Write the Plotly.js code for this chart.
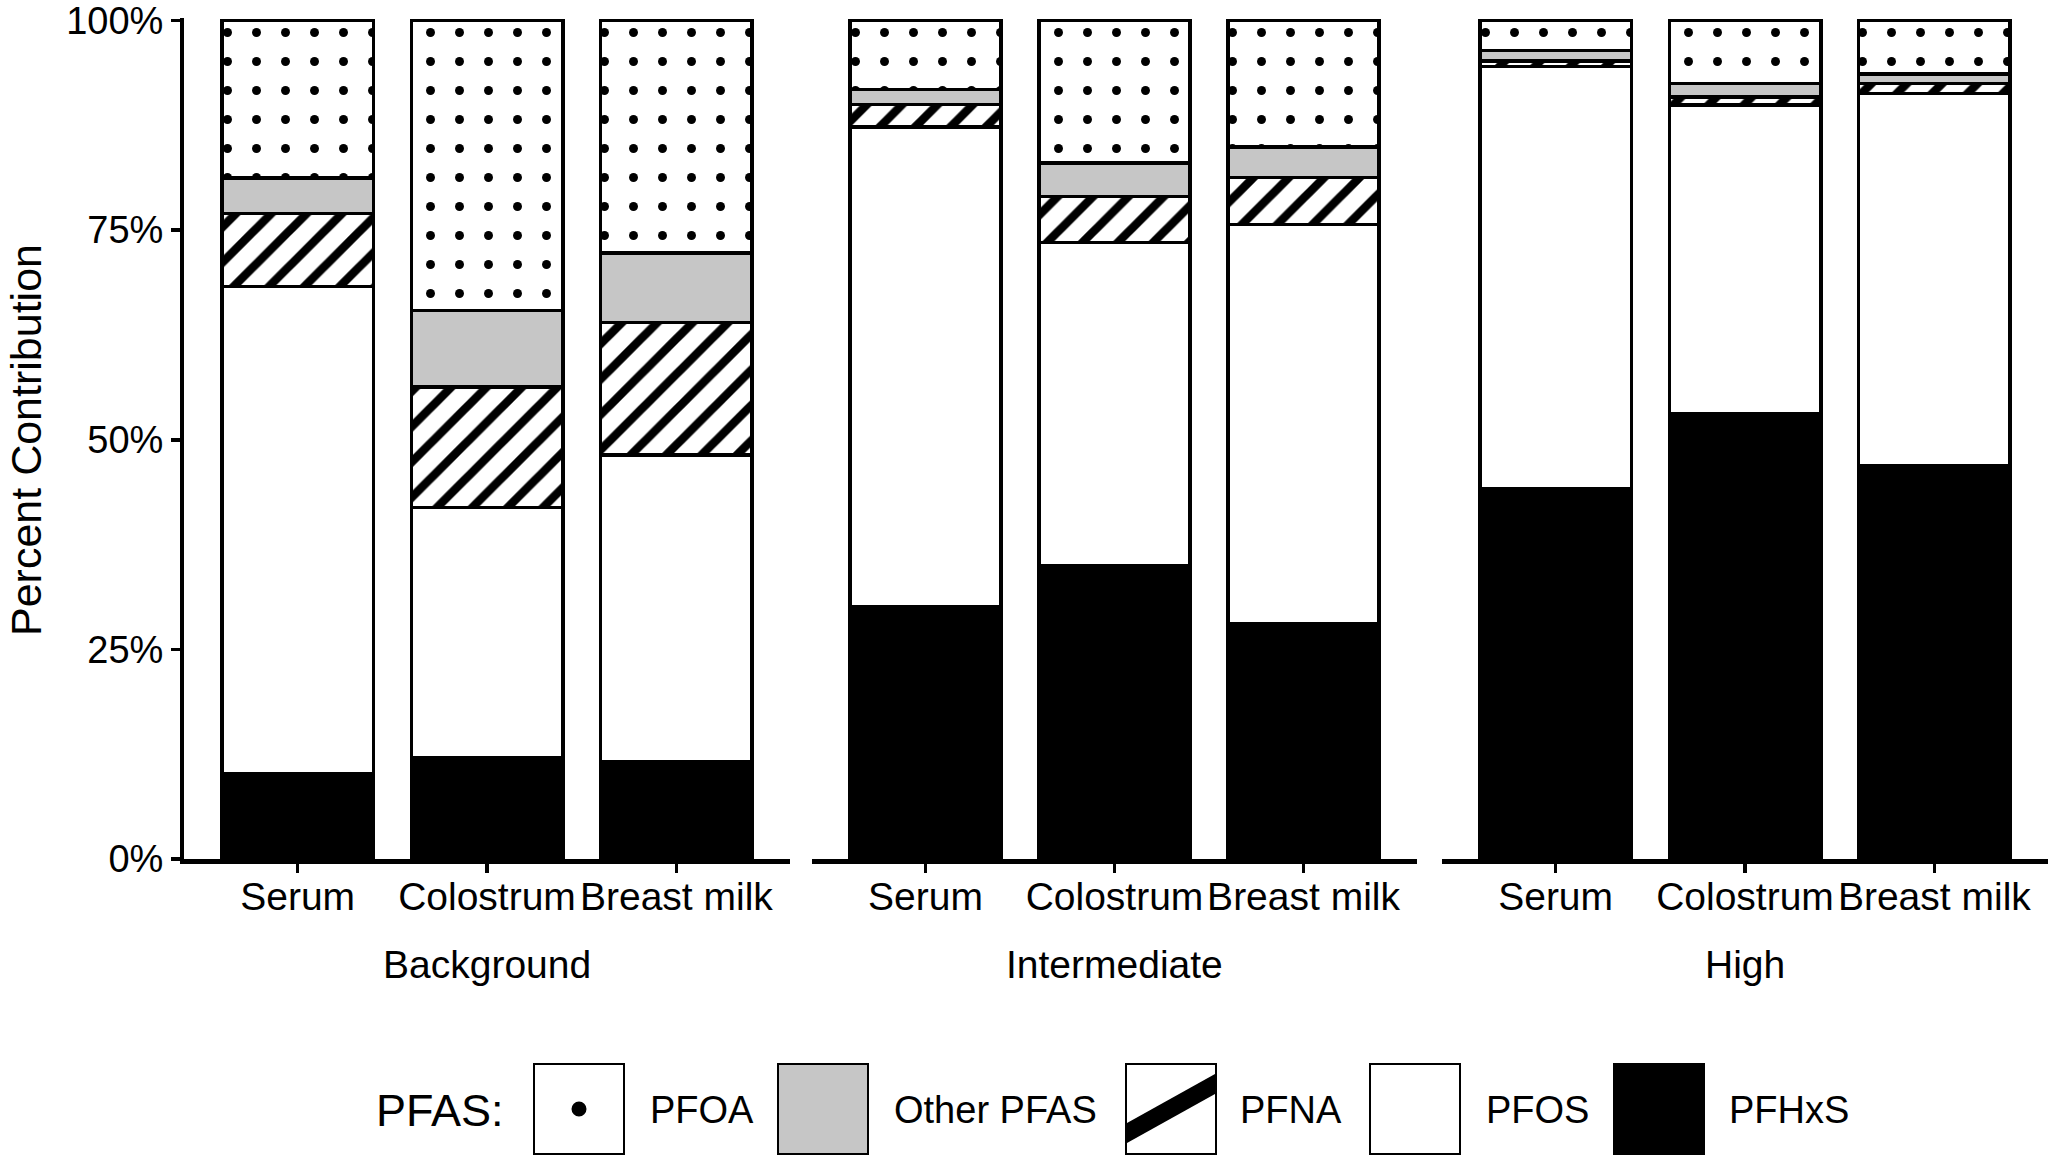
<!DOCTYPE html>
<html>
<head>
<meta charset="utf-8">
<script src="https://cdn.plot.ly/plotly-3.0.1.min.js"></script>
<style>
  html, body { margin: 0; padding: 0; background: #fff; }
  #chart { width: 2048px; height: 1176px; }
</style>
</head>
<body>
<div id="chart"></div>
<script>
// categories
const samples = ["Serum", "Colostrum", "Breast milk"];
const groups = ["Background", "Intermediate", "High"];

// percent contribution per segment, 9 values each:
// Background (Serum, Colostrum, Breast milk), Intermediate (...), High (...)
const pfhxs = [10.2, 12.1, 11.6, 30.1, 35.0, 28.0, 44.1, 53.1, 46.9];
const pfos = [58.1, 29.8, 36.6, 57.2, 38.5, 47.7, 50.4, 36.8, 44.4];
const pfna = [8.7, 14.4, 15.8, 2.7, 5.5, 5.6, 0.7, 1.0, 1.2];
const otherPfas = [4.2, 9.1, 8.3, 1.8, 4.0, 3.6, 1.2, 1.6, 1.1];
const pfoa = [18.8, 34.6, 27.7, 8.2, 17.0, 15.1, 3.6, 7.5, 6.4];

const yTicks = [0, 25, 50, 75, 100];
const legendOrder = ["PFOA", "Other PFAS", "PFNA", "PFOS", "PFHxS"];

// stacking order, bottom to top
const series = [
  { name: "PFHxS", values: pfhxs },
  { name: "PFOS", values: pfos },
  { name: "PFNA", values: pfna },
  { name: "Other PFAS", values: otherPfas },
  { name: "PFOA", values: pfoa },
];

const styles = {
  PFHxS: { color: "#000000" },
  PFOS: { color: "#ffffff" },
  PFNA: { color: "#ffffff", pattern: { shape: "/", size: 25, solidity: 0.34, fgcolor: "#000", bgcolor: "#fff" } },
  "Other PFAS": { color: "#c6c6c6" },
  PFOA: { color: "#ffffff", pattern: { shape: ".", size: 29, solidity: 0.075, fgcolor: "#000", bgcolor: "#fff" } },
};

const W = 2048, H = 1176, ML = 184, MR = 0, MT = 18, MB = 317;
const PW = W - ML - MR, PH = H - MT - MB;
const px = (x) => (x - ML) / PW;
const py = (y) => (H - MB - y) / PH;

const FONT = '"Liberation Sans", Arial, Helvetica, sans-serif';
const domains = [[0, px(790)], [px(812), px(1417)], [px(1442), 1]];

const traces = [];
groups.forEach((group, g) => {
  const xa = g === 0 ? "x" : "x" + (g + 1);
  series.forEach((s) => {
    const st = styles[s.name];
    const marker = { color: st.color, line: { color: "#000", width: 3.5 } };
    if (st.pattern) marker.pattern = st.pattern;
    traces.push({
      type: "bar",
      name: s.name,
      x: samples,
      y: s.values.slice(g * 3, g * 3 + 3),
      xaxis: xa,
      yaxis: "y",
      marker: marker,
      showlegend: false,
      hoverinfo: "skip",
    });
  });
});

function xAxis(d) {
  return {
    domain: d,
    anchor: "y",
    type: "category",
    range: [-0.6, 2.6],
    showline: true,
    linecolor: "#000",
    linewidth: 4.5,
    ticks: "outside",
    ticklen: 9,
    tickwidth: 3.5,
    tickcolor: "#000",
    ticklabelstandoff: -9,
    ticklabeloverflow: "allow",
    tickfont: { family: FONT, size: 39, color: "#000" },
    showgrid: false,
    zeroline: false,
    fixedrange: true,
  };
}

const annotations = [
  {
    text: "Percent Contribution",
    xref: "paper", yref: "paper",
    x: px(26), y: py(440),
    xanchor: "center", yanchor: "middle",
    textangle: -90, showarrow: false,
    font: { family: FONT, size: 43, color: "#000" },
  },
  {
    text: "PFAS:",
    xref: "paper", yref: "paper",
    x: px(374), y: py(1110),
    xanchor: "left", yanchor: "middle",
    showarrow: false,
    font: { family: FONT, size: 45, color: "#000" },
  },
];

groups.forEach((group, g) => {
  annotations.push({
    text: group,
    xref: (g === 0 ? "x" : "x" + (g + 1)) + " domain", yref: "paper",
    x: 0.5, y: py(964),
    xanchor: "center", yanchor: "middle",
    showarrow: false,
    font: { family: FONT, size: 39, color: "#000" },
  });
});

// legend keys drawn as shapes
const keyLeft = [534, 778, 1126, 1370, 1614];
const labelLeft = [648, 892, 1238, 1484, 1727];
const keyTop = 1064, keySize = 90;
const shapes = [];
legendOrder.forEach((name, i) => {
  const x0 = keyLeft[i], x1 = x0 + keySize, y0 = keyTop, y1 = keyTop + keySize;
  shapes.push({
    type: "rect", xref: "paper", yref: "paper",
    x0: px(x0), x1: px(x1), y0: py(y1), y1: py(y0),
    fillcolor: styles[name].color,
    line: { color: "#000", width: 2 },
  });
  if (name === "PFOA") {
    const cx = x0 + keySize / 2, cy = y0 + keySize / 2, r = 7.5;
    shapes.push({
      type: "circle", xref: "paper", yref: "paper",
      x0: px(cx - r), x1: px(cx + r), y0: py(cy + r), y1: py(cy - r),
      fillcolor: "#000", line: { width: 0 },
    });
  }
  if (name === "PFNA") {
    const a = [x0 + 1, y0 + 59], b = [x0 + 1, y0 + 79], c = [x1 - 1, y0 + 30], d = [x1 - 1, y0 + 10];
    const p = (pt) => px(pt[0]) + "," + py(pt[1]);
    shapes.push({
      type: "path", xref: "paper", yref: "paper",
      path: "M" + p(a) + "L" + p(b) + "L" + p(c) + "L" + p(d) + "Z",
      fillcolor: "#000", line: { width: 0 },
    });
  }
  annotations.push({
    text: name,
    xref: "paper", yref: "paper",
    x: px(labelLeft[i]), y: py(1110),
    xanchor: "left", yanchor: "middle",
    showarrow: false,
    font: { family: FONT, size: 38, color: "#000" },
  });
});

const layout = {
  width: W,
  height: H,
  margin: { l: ML, r: MR, t: MT, b: MB, pad: 0 },
  paper_bgcolor: "#fff",
  plot_bgcolor: "#fff",
  barmode: "stack",
  bargap: 0.2,
  showlegend: false,
  font: { family: FONT, color: "#000" },
  xaxis: xAxis(domains[0]),
  xaxis2: xAxis(domains[1]),
  xaxis3: xAxis(domains[2]),
  yaxis: {
    domain: [0, 1],
    anchor: "x",
    range: [0, 100.3],
    tickvals: yTicks,
    ticktext: yTicks.map((v) => v + "%"),
    showline: true,
    linecolor: "#000",
    linewidth: 4,
    ticks: "outside",
    ticklen: 9,
    tickwidth: 3.5,
    tickcolor: "#000",
    ticklabeloverflow: "allow",
    tickfont: { family: FONT, size: 38, color: "#000" },
    showgrid: false,
    zeroline: false,
    fixedrange: true,
  },
  annotations: annotations,
  shapes: shapes,
};

Plotly.newPlot("chart", traces, layout, { staticPlot: true, displayModeBar: false });
</script>
</body>
</html>
